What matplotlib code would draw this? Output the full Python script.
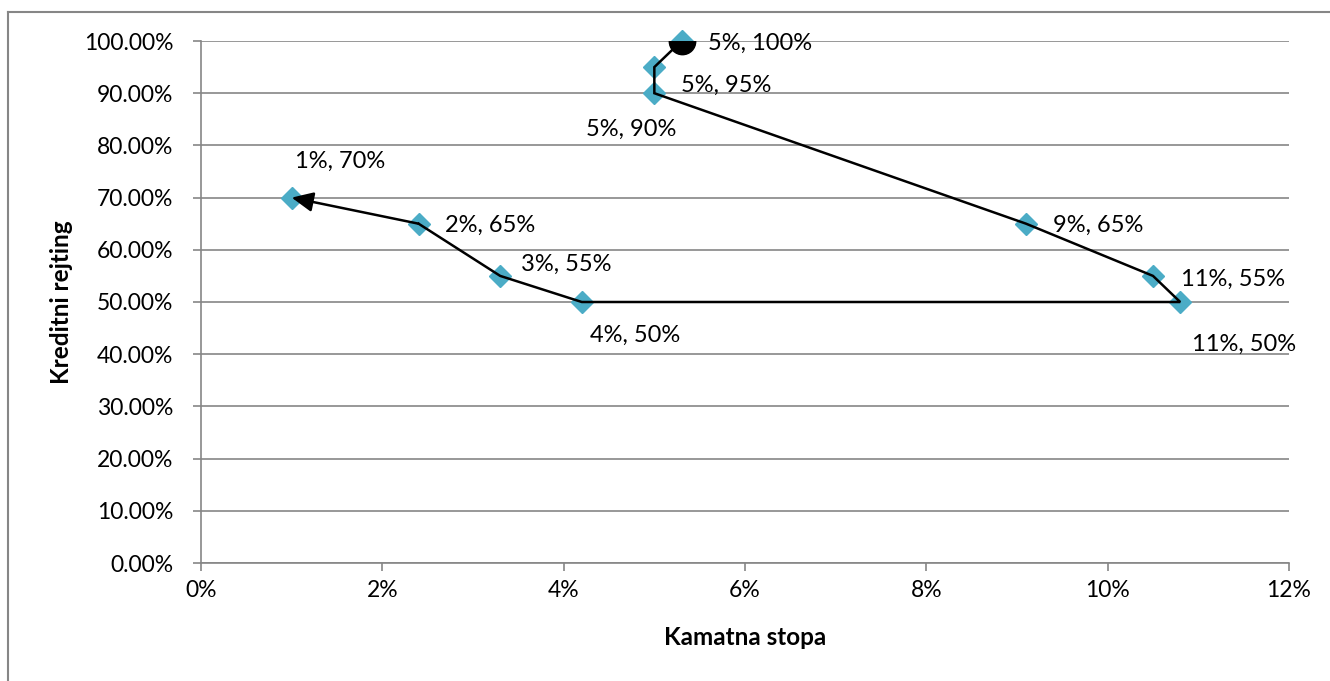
import matplotlib
matplotlib.use('Agg')
import matplotlib.pyplot as plt
from matplotlib.ticker import FuncFormatter
from matplotlib.lines import Line2D

plt.rcParams['font.family'] = ['Lato', 'DejaVu Sans']

# data (x = interest rate %, y = credit rating %)
kamata = [5.3, 5.0, 5.0, 9.1, 10.5, 10.8, 4.2, 3.3, 2.4, 1.0]
rejting = [100, 95, 90, 65, 55, 50, 50, 55, 65, 70]
oznake = ['5%, 100%', '5%, 95%', '5%, 90%', '9%, 65%', '11%, 55%',
          '11%, 50%', '4%, 50%', '3%, 55%', '2%, 65%', '1%, 70%']

# label offsets in pixels (dx, dy)
pomaci = [(26, -2), (27, -18), (-68, -36), (27, -2), (28, -3),
          (12, -42), (8, -33), (21, 12), (26, -2), (3, 36)]

x_ticks = [0, 2, 4, 6, 8, 10, 12]
y_ticks = [0, 10, 20, 30, 40, 50, 60, 70, 80, 90, 100]

siva = '#868686'
plava = '#4BACC6'

fig = plt.figure(figsize=(13.3, 6.81), dpi=100)
ax = fig.add_axes([201/1330, 1 - 563/681, (1289 - 201)/1330, (563 - 41)/681])

# outer chart border (only top and left visible)
fig.add_artist(Line2D([8/1330, 8/1330], [0, 1 - 12/681], transform=fig.transFigure,
                      color=siva, lw=1.5))
fig.add_artist(Line2D([8/1330, 1], [1 - 12/681, 1 - 12/681], transform=fig.transFigure,
                      color=siva, lw=1.5))

ax.set_xlim(0, 12)
ax.set_ylim(0, 100)
ax.set_xticks(x_ticks)
ax.set_yticks(y_ticks)
ax.xaxis.set_major_formatter(FuncFormatter(lambda v, p: '%d%%' % v))
ax.yaxis.set_major_formatter(FuncFormatter(lambda v, p: '%.2f%%' % v))
ax.grid(axis='y', color=siva, lw=1.2)
ax.set_axisbelow(True)
for s in ['top', 'right']:
    ax.spines[s].set_visible(False)
for s in ['left', 'bottom']:
    ax.spines[s].set_color(siva)
    ax.spines[s].set_linewidth(1.2)
ax.tick_params(axis='both', colors=siva, length=6, width=1.2, labelsize=16.5,
               labelcolor='black')
ax.tick_params(axis='y', pad=14)
ax.tick_params(axis='x', pad=6)

# path line (all segments but the last), last segment with arrow head
ax.plot(kamata[:-1], rejting[:-1], color='black', lw=1.8, zorder=3,
        solid_joinstyle='miter')
ax.annotate('', xy=(kamata[-1], rejting[-1]), xytext=(kamata[-2], rejting[-2]),
            arrowprops=dict(arrowstyle='-|>,head_length=1.3,head_width=0.6',
                            color='black', lw=1.8, shrinkA=0, shrinkB=0),
            zorder=3)

# markers
ax.plot(kamata, rejting, linestyle='none', marker='D', markersize=11,
        color=plava, zorder=2, clip_on=False)

# start cap (round, clipped by plot area)
ax.plot(kamata[0], rejting[0], marker='o', markersize=19, color='black',
        zorder=4, clip_on=True)

for xv, yv, t, (dx, dy) in zip(kamata, rejting, oznake, pomaci):
    ax.annotate(t, xy=(xv, yv), xytext=(dx, dy), textcoords='offset pixels',
                ha='left', va='center', fontsize=17, annotation_clip=False)

ax.set_xlabel('Kamatna stopa', fontsize=17.5, fontweight='bold', labelpad=18)
ax.set_ylabel('Kreditni rejting', fontsize=17.5, fontweight='bold', labelpad=8)

fig.savefig('out.png', dpi=100)
